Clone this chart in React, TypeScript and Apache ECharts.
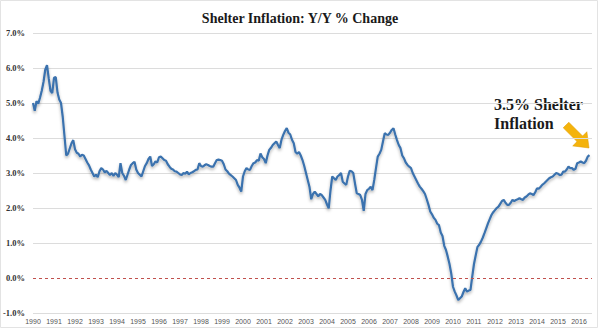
import React, { useEffect, useRef } from "react";
import * as echarts from "echarts";

// Monthly Y/Y % change of shelter CPI, Jan of each year first
const startYear = 1990;
const y1990 = [5.0, 4.78, 5.05, 4.98, 5.15, 5.35, 5.6, 5.95, 6.08, 5.7, 5.35, 5.28];
const y1991 = [5.72, 5.74, 5.3, 5.1, 5.0, 4.6, 4.05, 3.5, 3.55, 3.7, 3.85, 3.94];
const y1992 = [3.68, 3.58, 3.55, 3.47, 3.52, 3.5, 3.4, 3.3, 3.22, 3.1, 3.0, 2.9];
const y1993 = [2.95, 2.88, 3.05, 3.14, 3.1, 3.02, 3.06, 3.0, 2.94, 3.0, 2.92, 3.0];
const y1994 = [2.95, 2.88, 3.28, 3.0, 2.92, 2.8, 2.95, 3.1, 3.23, 3.28, 3.32, 3.1];
const y1995 = [3.0, 2.95, 2.9, 3.05, 3.2, 3.28, 3.4, 3.47, 3.2, 3.25, 3.33, 3.3];
const y1996 = [3.45, 3.47, 3.42, 3.37, 3.35, 3.25, 3.18, 3.12, 3.1, 3.05, 3.04, 3.0];
const y1997 = [2.96, 2.94, 3.0, 2.98, 3.04, 2.96, 3.0, 3.02, 3.05, 3.09, 3.1, 3.28];
const y1998 = [3.2, 3.18, 3.22, 3.25, 3.23, 3.2, 3.18, 3.18, 3.28, 3.37, 3.38, 3.37];
const y1999 = [3.35, 3.25, 3.1, 3.05, 2.98, 2.94, 2.9, 2.85, 2.8, 2.66, 2.58, 2.47];
const y2000 = [2.9, 3.05, 3.14, 3.1, 3.09, 3.2, 3.28, 3.3, 3.37, 3.35, 3.56, 3.45];
const y2001 = [3.4, 3.28, 3.5, 3.66, 3.72, 3.8, 3.85, 3.9, 3.8, 3.71, 3.95, 4.09];
const y2002 = [4.2, 4.28, 4.15, 4.1, 3.95, 3.85, 3.6, 3.55, 3.6, 3.5, 3.37, 3.2];
const y2003 = [3.0, 2.8, 2.6, 2.25, 2.4, 2.47, 2.4, 2.33, 2.4, 2.37, 2.3, 2.23];
const y2004 = [2.1, 1.99, 2.5, 2.9, 2.85, 2.8, 2.9, 2.94, 3.0, 2.75, 2.7, 2.66];
const y2005 = [2.9, 3.06, 3.05, 3.0, 2.7, 2.42, 2.4, 2.37, 2.23, 1.92, 2.4, 2.51];
const y2006 = [2.55, 2.61, 2.51, 2.8, 3.14, 3.47, 3.55, 3.66, 3.9, 4.14, 4.1, 4.09];
const y2007 = [4.15, 4.23, 4.28, 4.1, 3.94, 3.8, 3.71, 3.5, 3.42, 3.3, 3.23, 3.18];
const y2008 = [3.14, 3.0, 2.9, 2.8, 2.7, 2.61, 2.55, 2.48, 2.4, 2.25, 2.09, 1.9];
const y2009 = [1.82, 1.72, 1.66, 1.55, 1.51, 1.3, 1.2, 0.92, 0.8, 0.61, 0.4, 0.13];
const y2010 = [-0.25, -0.39, -0.5, -0.63, -0.58, -0.53, -0.4, -0.29, -0.39, -0.36, -0.34, 0.04];
const y2011 = [0.4, 0.65, 0.89, 0.95, 1.04, 1.15, 1.28, 1.42, 1.56, 1.68, 1.8, 1.88];
const y2012 = [1.94, 2.0, 2.04, 2.12, 2.2, 2.23, 2.15, 2.09, 2.09, 2.15, 2.23, 2.2];
const y2013 = [2.23, 2.25, 2.28, 2.25, 2.23, 2.3, 2.33, 2.38, 2.42, 2.4, 2.37, 2.45];
const y2014 = [2.56, 2.55, 2.6, 2.66, 2.7, 2.75, 2.8, 2.85, 2.88, 2.9, 2.95, 3.0];
const y2015 = [2.98, 2.94, 2.95, 3.04, 3.04, 3.1, 3.18, 3.14, 3.14, 3.09, 3.12, 3.28];
const y2016 = [3.3, 3.33, 3.3, 3.28, 3.35, 3.47, 3.51];

const yearly = [
  y1990, y1991, y1992, y1993, y1994, y1995, y1996, y1997, y1998, y1999,
  y2000, y2001, y2002, y2003, y2004, y2005, y2006, y2007, y2008, y2009,
  y2010, y2011, y2012, y2013, y2014, y2015, y2016,
];

const yTicks = [-1, 0, 1, 2, 3, 4, 5, 6, 7];
const titleText = "Shelter Inflation: Y/Y % Change";
const annotationText = "3.5% Shelter\nInflation";

export default function App() {
  const ref = useRef<HTMLDivElement>(null);

  useEffect(() => {
    document.body.style.margin = "0";
    if (!ref.current) return;
    const chart = echarts.init(ref.current, undefined, { renderer: "svg" });

    const data: [number, number][] = [];
    yearly.forEach((arr, yi) => {
      arr.forEach((v, mi) => {
        data.push([startYear + yi + mi / 12, v]);
      });
    });

    const splitColors = yTicks.map((t) => (t === 0 ? "rgba(0,0,0,0)" : "#dcdcdc"));

    chart.setOption({
      animation: false,
      backgroundColor: "#ffffff",
      title: {
        text: titleText,
        left: "center",
        top: 6,
        textStyle: {
          fontFamily: "Liberation Serif, serif",
          fontWeight: "bold",
          fontSize: 14,
          color: "#1a1a1a",
        },
      },
      grid: { left: 33, right: 8, top: 33, bottom: 16, containLabel: false },
      xAxis: {
        type: "value",
        min: 1990,
        max: 2016.62,
        interval: 1,
        axisLine: { show: false },
        axisTick: { show: false },
        splitLine: { show: false },
        axisLabel: {
          margin: 5,
          fontSize: 7,
          color: "#555",
          fontFamily: "Liberation Sans, sans-serif",
          showMaxLabel: false,
          formatter: (v: number) => (Number.isInteger(v) ? String(v) : ""),
        },
      },
      yAxis: {
        type: "value",
        min: -1,
        max: 7,
        interval: 1,
        axisLine: { show: false },
        axisTick: { show: false },
        splitLine: { show: true, lineStyle: { color: splitColors, width: 1 } },
        axisLabel: {
          margin: 8,
          fontSize: 8.5,
          fontWeight: "bold",
          color: "#333",
          fontFamily: "Liberation Serif, serif",
          formatter: (v: number) => v.toFixed(1) + "%",
        },
      },
      series: [
        {
          type: "line",
          data,
          showSymbol: false,
          smooth: false,
          lineStyle: {
            color: "#3B72AE",
            width: 2.2,
            shadowColor: "rgba(0,0,0,0.3)",
            shadowBlur: 3,
            shadowOffsetY: 2,
          },
          markLine: {
            silent: true,
            symbol: ["none", "none"],
            label: { show: false },
            lineStyle: { color: "#c0504d", type: [3, 3], width: 1 },
            data: [{ yAxis: 0 }],
          },
        },
      ],
      graphic: [
        {
          type: "rect",
          shape: { x: 0.5, y: 0.5, width: 597, height: 327 },
          style: { fill: "none", stroke: "#e3e3e3", lineWidth: 1 },
          silent: true,
        },
        {
          type: "text",
          x: 494,
          y: 95,
          style: {
            text: annotationText,
            fontFamily: "Liberation Serif, serif",
            fontWeight: "bold",
            fontSize: 16,
            lineHeight: 19,
            fill: "#1a1a1a",
          },
        },
        {
          type: "polygon",
          shape: {
            points: [
              [568.8, 122.2],
              [582.6, 136.0],
              [586.9, 131.7],
              [589, 148],
              [572.7, 145.9],
              [577.0, 141.6],
              [563.2, 127.8],
            ],
          },
          style: { fill: "#F4B30C", stroke: "#E09A00", lineWidth: 0.5 },
        },
      ],
    });

    return () => chart.dispose();
  }, []);

  return <div ref={ref} style={{ width: 600, height: 329 }} />;
}
